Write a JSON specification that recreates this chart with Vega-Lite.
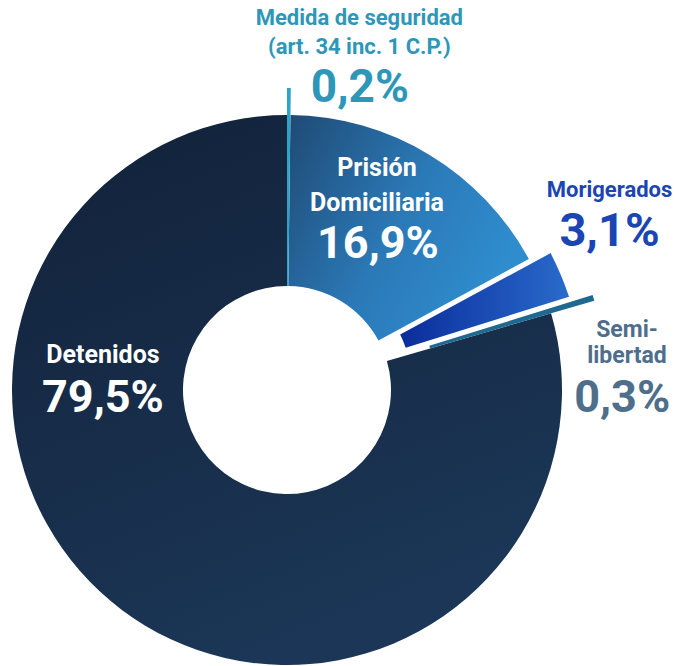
{
  "$schema": "https://vega.github.io/schema/vega-lite/v6.json",
  "width": 574,
  "height": 500,
  "autosize": {"type": "none"},
  "padding": {"left": 0, "top": 140, "right": 102, "bottom": 26},
  "background": "white",
  "config": {"view": {"stroke": null}, "text": {"font": "Roboto", "fontWeight": "bold", "align": "center", "baseline": "middle"}},
  "data": {"values": [
    {"categoria": "Medida", "nombre": "Medida de seguridad\n(art. 34 inc. 1 C.P.)", "pct": "0,2%", "valor": 0.2, "orden": 1},
    {"categoria": "Prision", "nombre": "Prisión\nDomiciliaria", "pct": "16,9%", "valor": 16.9, "orden": 2},
    {"categoria": "Morigerados", "nombre": "Morigerados", "pct": "3,1%", "valor": 3.1, "orden": 3},
    {"categoria": "Semi", "nombre": "Semi-\nlibertad", "pct": "0,3%", "valor": 0.3, "orden": 4},
    {"categoria": "Detenidos", "nombre": "Detenidos", "pct": "79,5%", "valor": 79.5, "orden": 5}
  ]},
  "transform": [
    {"stack": "valor", "groupby": [], "sort": [{"field": "orden", "order": "ascending"}], "as": ["ini", "fin"]},
    {"calculate": "(datum.ini + datum.fin) / 2", "as": "medio"}
  ],
  "layer": [
    {
      "transform": [{"filter": "datum.categoria === 'Detenidos'"}],
      "mark": {"type": "arc", "radius": 275, "radius2": 104,
        "fill": {"gradient": "linear", "x1": 0, "y1": 0, "x2": 0.4, "y2": 1, "stops": [{"offset": 0, "color": "#122139"}, {"offset": 1, "color": "#1b3656"}]}},
      "encoding": {
        "theta": {"field": "ini", "type": "quantitative", "stack": null, "scale": {"domain": [0, 100], "range": [0, 6.283185307]}},
        "theta2": {"field": "fin"}
      }
    },
    {
      "transform": [{"filter": "datum.categoria === 'Prision'"}],
      "mark": {"type": "arc", "radius": 275, "radius2": 104,
        "fill": {"gradient": "linear", "x1": 0, "y1": 0, "x2": 1, "y2": 0.5, "stops": [{"offset": 0, "color": "#1f4a74"}, {"offset": 0.55, "color": "#2b79b7"}, {"offset": 1, "color": "#2f8dce"}]}},
      "encoding": {
        "theta": {"field": "ini", "type": "quantitative", "stack": null, "scale": {"domain": [0, 100], "range": [0, 6.283185307]}},
        "theta2": {"field": "fin"}
      }
    },
    {
      "transform": [{"filter": "datum.categoria === 'Morigerados'"}],
      "mark": {"type": "arc", "radius": 297, "radius2": 126, "padAngle": 0.032,
        "fill": {"gradient": "linear", "x1": 0, "y1": 0.5, "x2": 1, "y2": 0.5, "stops": [{"offset": 0, "color": "#0a2d9c"}, {"offset": 1, "color": "#2a6acb"}]}},
      "encoding": {
        "theta": {"field": "ini", "type": "quantitative", "stack": null, "scale": {"domain": [0, 100], "range": [0, 6.283185307]}},
        "theta2": {"field": "fin"}
      }
    },
    {
      "transform": [{"filter": "datum.categoria === 'Semi'"}],
      "mark": {"type": "arc", "radius": 320, "radius2": 149, "fill": "#1f6890"},
      "encoding": {
        "theta": {"field": "ini", "type": "quantitative", "stack": null, "scale": {"domain": [0, 100], "range": [0, 6.283185307]}},
        "theta2": {"field": "fin"}
      }
    },
    {
      "transform": [{"filter": "datum.categoria === 'Medida'"}],
      "mark": {"type": "arc", "radius": 302, "radius2": 104, "fill": "#2ea3c9"},
      "encoding": {
        "theta": {"field": "ini", "type": "quantitative", "stack": null, "scale": {"domain": [0, 100], "range": [0, 6.283185307]}},
        "theta2": {"field": "fin"}
      }
    },
    {
      "transform": [{"filter": "datum.categoria === 'Medida'"}],
      "mark": {"type": "text", "radius": 372, "dx": 70, "fontSize": 22, "lineHeight": 29, "lineBreak": "\n", "fill": "#2e97b9"},
      "encoding": {"theta": {"field": "medio", "type": "quantitative", "stack": null}, "text": {"field": "nombre"}}
    },
    {
      "transform": [{"filter": "datum.categoria === 'Medida'"}],
      "mark": {"type": "text", "radius": 302, "dx": 71, "fontSize": 46, "fill": "#2e97b9"},
      "encoding": {"theta": {"field": "medio", "type": "quantitative", "stack": null}, "text": {"field": "pct"}}
    },
    {
      "transform": [{"filter": "datum.categoria === 'Prision'"}],
      "mark": {"type": "text", "radius": 259, "dx": -44, "fontSize": 25, "lineHeight": 35, "lineBreak": "\n", "fill": "white"},
      "encoding": {"theta": {"field": "medio", "type": "quantitative", "stack": null}, "text": {"field": "nombre"}}
    },
    {
      "transform": [{"filter": "datum.categoria === 'Prision'"}],
      "mark": {"type": "text", "radius": 170, "dx": 3, "fontSize": 45, "fill": "white"},
      "encoding": {"theta": {"field": "medio", "type": "quantitative", "stack": null}, "text": {"field": "pct"}}
    },
    {
      "transform": [{"filter": "datum.categoria === 'Morigerados'"}],
      "mark": {"type": "text", "radius": 350, "dy": -64, "fontSize": 22, "fill": "#1b45b2"},
      "encoding": {"theta": {"field": "medio", "type": "quantitative", "stack": null}, "text": {"field": "nombre"}}
    },
    {
      "transform": [{"filter": "datum.categoria === 'Morigerados'"}],
      "mark": {"type": "text", "radius": 350, "dy": -22, "fontSize": 47, "fill": "#1b45b2"},
      "encoding": {"theta": {"field": "medio", "type": "quantitative", "stack": null}, "text": {"field": "pct"}}
    },
    {
      "transform": [{"filter": "datum.categoria === 'Semi'"}],
      "mark": {"type": "text", "radius": 355, "dy": 42, "fontSize": 23, "lineHeight": 26, "lineBreak": "\n", "fill": "#4e6e8b"},
      "encoding": {"theta": {"field": "medio", "type": "quantitative", "stack": null}, "text": {"field": "nombre"}}
    },
    {
      "transform": [{"filter": "datum.categoria === 'Semi'"}],
      "mark": {"type": "text", "radius": 350, "dy": 109, "fontSize": 45, "fill": "#4e6e8b"},
      "encoding": {"theta": {"field": "medio", "type": "quantitative", "stack": null}, "text": {"field": "pct"}}
    },
    {
      "transform": [{"filter": "datum.categoria === 'Detenidos'"}],
      "mark": {"type": "text", "radius": 190, "dx": -70, "dy": -187, "fontSize": 25, "fill": "white"},
      "encoding": {"theta": {"field": "medio", "type": "quantitative", "stack": null}, "text": {"field": "nombre"}}
    },
    {
      "transform": [{"filter": "datum.categoria === 'Detenidos'"}],
      "mark": {"type": "text", "radius": 190, "dx": -70, "dy": -144, "fontSize": 45, "fill": "white"},
      "encoding": {"theta": {"field": "medio", "type": "quantitative", "stack": null}, "text": {"field": "pct"}}
    }
  ]
}
